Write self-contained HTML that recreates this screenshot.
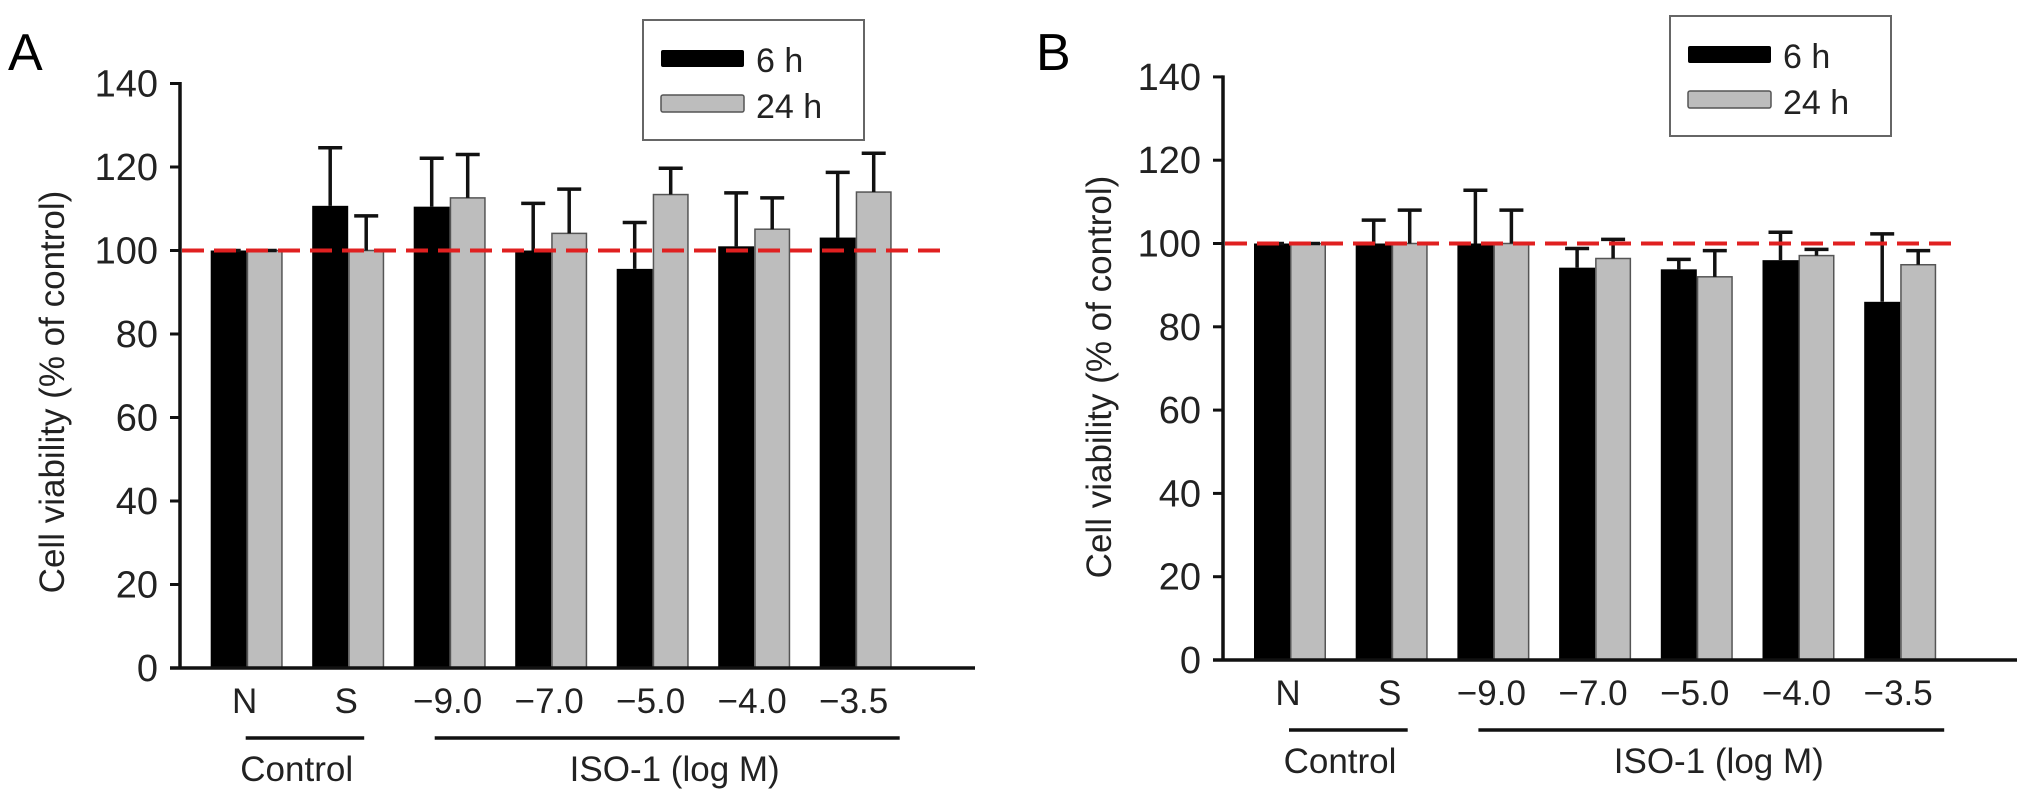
<!DOCTYPE html>
<html><head><meta charset="utf-8"><style>
html,body{margin:0;padding:0;background:#fff;}
svg{display:block;font-family:"Liberation Sans",Arial,sans-serif;}
</style></head><body>
<svg id="fig" width="2032" height="812" viewBox="0 0 2032 812"></svg>
<script>
const categories = ["N","S","\u22129.0","\u22127.0","\u22125.0","\u22124.0","\u22123.5"];
const yTicks = [0,20,40,60,80,100,120,140];
const seriesNames = ["6 h","24 h"];
const a6 = [100,110.7,110.5,100,95.6,101,103.1];
const a6err = [100,124.6,122.1,111.3,106.7,113.8,118.7];
const a24 = [100,100,112.6,104.1,113.4,105.1,114];
const a24err = [100,108.3,123,114.7,119.7,112.6,123.3];
const b6 = [100,100,100,94.2,93.8,96,86];
const b6err = [100,105.6,112.8,98.8,96.2,102.7,102.3];
const b24 = [100,100,100,96.4,92,97.1,94.9];
const b24err = [100,108,108,101,98.3,98.6,98.3];
const refValue = 100;

const NS = "http://www.w3.org/2000/svg";
const svg = document.getElementById('fig');
function mk(tag, attrs, parent, text){
  const e = document.createElementNS(NS, tag);
  for (const k in attrs) e.setAttribute(k, attrs[k]);
  if (text !== undefined) e.textContent = text;
  (parent || svg).appendChild(e);
  return e;
}

function panel(cfg){
  const g = mk('g', {});
  
  
  const y = v => cfg.y0 - (v / 20) * cfg.unit20;
  const xL = i => cfg.barStart + i * cfg.spacing;
  const bw = 36;

  const L = mk('text', {x: cfg.letterX, y: 70, 'font-size': 52}, g, cfg.id);
  
  

  cfg.s6.forEach((v, i) => {
    const x = xL(i);
    const r = mk('rect', {x: x, y: y(v), width: bw, height: y(0) - y(v), fill: '#000'}, g);
    
    
    const e = mk('path', {d: `M${x+bw/2},${y(v)}V${y(cfg.e6[i])}M${x+bw/2-12},${y(cfg.e6[i])}H${x+bw/2+12}`, stroke: '#111', 'stroke-width': 3.5, fill: 'none'}, g);
    
    
  });
  cfg.s24.forEach((v, i) => {
    const x = xL(i) + bw;
    const r = mk('rect', {x: x + 0.75, y: y(v), width: bw - 1.5, height: y(0) - y(v), fill: '#bdbdbd', stroke: '#555', 'stroke-width': 1.5}, g);
    
    
    const e = mk('path', {d: `M${x+bw/2},${y(v)}V${y(cfg.e24[i])}M${x+bw/2-12},${y(cfg.e24[i])}H${x+bw/2+12}`, stroke: '#111', 'stroke-width': 3.5, fill: 'none'}, g);
    
    
  });

  const ya = mk('line', {x1: cfg.axisX, y1: y(140) - 1.5, x2: cfg.axisX, y2: y(0), stroke: '#111', 'stroke-width': 3.5}, g);
  
  
  const xa = mk('line', {x1: cfg.axisX - 10, y1: y(0), x2: cfg.axisEnd, y2: y(0), stroke: '#111', 'stroke-width': 3.5}, g);
  
  
  yTicks.forEach(t => {
    const tk = mk('line', {x1: cfg.axisX - 10, y1: y(t), x2: cfg.axisX, y2: y(t), stroke: '#111', 'stroke-width': 3}, g);
    
    
    const tl = mk('text', {x: cfg.axisX - 22, y: y(t) + 13, 'font-size': 38, 'text-anchor': 'end', fill: '#222'}, g, String(t));
    
    
  });
  categories.forEach((c, i) => {
    const tl = mk('text', {x: xL(i) + bw - 2, y: cfg.y0 + 45, 'font-size': 35, 'text-anchor': 'middle', fill: '#222'}, g, c);
    
    
  });

  const yt = mk('text', {x: 0, y: 0, 'font-size': 35, 'text-anchor': 'middle', fill: '#222', transform: `translate(${cfg.titleX},${cfg.titleY}) rotate(-90)`}, g, 'Cell viability (% of control)');
  
  

  const rl = mk('line', {x1: cfg.axisX + 2, y1: y(refValue), x2: cfg.refEnd, y2: y(refValue), stroke: '#e02020', 'stroke-width': 4, 'stroke-dasharray': '22 10'}, g);
  
  

  const ul = cfg.y0 + 70;
  const c1 = mk('line', {x1: xL(0) + 35, y1: ul, x2: xL(1) + 52, y2: ul, stroke: '#111', 'stroke-width': 3.5}, g);
  
  
  const c1t = mk('text', {x: xL(0) + 86, y: ul + 43, 'font-size': 35, 'text-anchor': 'middle', fill: '#222'}, g, 'Control');
  
  
  const c2 = mk('line', {x1: xL(2) + 21, y1: ul, x2: xL(6) + 80, y2: ul, stroke: '#111', 'stroke-width': 3.5}, g);
  
  
  const c2t = mk('text', {x: xL(4) + 58, y: ul + 43, 'font-size': 35, 'text-anchor': 'middle', fill: '#222'}, g, 'ISO-1 (log M)');
  
  

  const lg = mk('g', {}, g);
  
  
  mk('rect', {x: cfg.legX, y: cfg.legY, width: 221, height: 120, fill: '#fff', stroke: '#666', 'stroke-width': 2}, lg);
  const s1 = mk('rect', {x: cfg.legX + 18, y: cfg.legY + 30, width: 83, height: 17, rx: 2, fill: '#000'}, lg);
  
  
  const t1 = mk('text', {x: cfg.legX + 113, y: cfg.legY + 52, 'font-size': 34, fill: '#222'}, lg, seriesNames[0]);
  
  
  const s2 = mk('rect', {x: cfg.legX + 18, y: cfg.legY + 75, width: 83, height: 17, rx: 2, fill: '#bdbdbd', stroke: '#555', 'stroke-width': 1.5}, lg);
  
  
  const t2 = mk('text', {x: cfg.legX + 113, y: cfg.legY + 98, 'font-size': 34, fill: '#222'}, lg, seriesNames[1]);
  
  
}

panel({id: 'A', letterX: 8, axisX: 180, axisEnd: 975, y0: 668, unit20: 83.5, barStart: 210.7, spacing: 101.5,
  s6: a6, e6: a6err, s24: a24, e24: a24err, titleX: 64, titleY: 392, refEnd: 943, legX: 643, legY: 20});
panel({id: 'B', letterX: 1036, axisX: 1223, axisEnd: 2017, y0: 660, unit20: 83.3, barStart: 1254, spacing: 101.7,
  s6: b6, e6: b6err, s24: b24, e24: b24err, titleX: 1111, titleY: 377, refEnd: 1958, legX: 1670, legY: 16});
</script>
</body></html>
